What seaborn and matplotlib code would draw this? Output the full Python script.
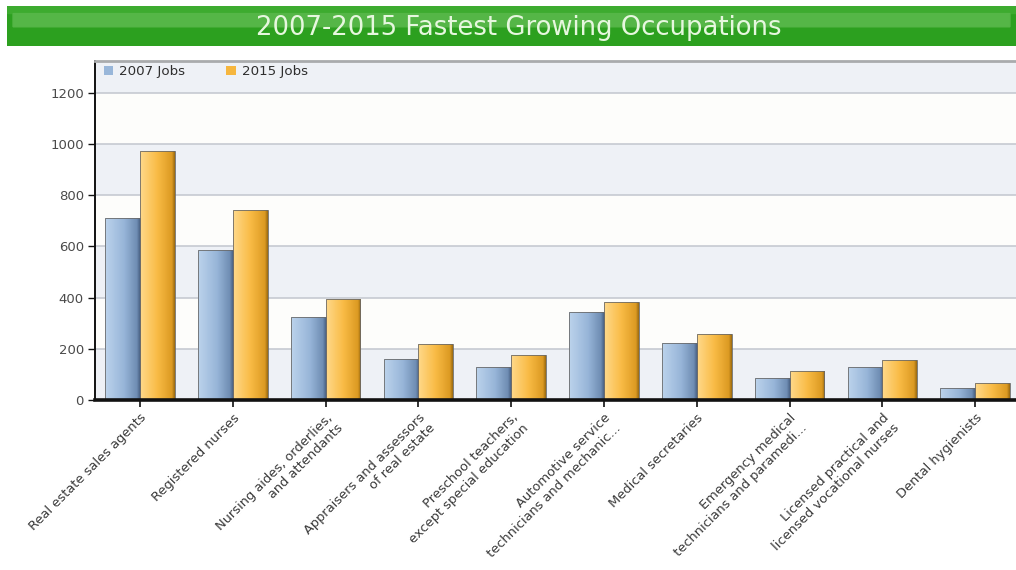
import numpy as np
import pandas as pd
import matplotlib
matplotlib.use("Agg")
import matplotlib.pyplot as plt
from matplotlib.patches import Patch, FancyBboxPatch
from matplotlib.colors import LinearSegmentedColormap
import seaborn as sns

# ---- data -------------------------------------------------------------
occupations = [
    "Real estate sales agents",
    "Registered nurses",
    "Nursing aides, orderlies,\nand attendants",
    "Appraisers and assessors\nof real estate",
    "Preschool teachers,\nexcept special education",
    "Automotive service\ntechnicians and mechanic...",
    "Medical secretaries",
    "Emergency medical\ntechnicians and paramedi...",
    "Licensed practical and\nlicensed vocational nurses",
    "Dental hygienists",
]
jobs_2007 = [710, 587, 324, 160, 129, 345, 222, 85, 130, 48]
jobs_2015 = [973, 743, 395, 219, 176, 384, 258, 115, 156, 68]
series_names = ["2007 Jobs", "2015 Jobs"]
y_ticks = [0, 200, 400, 600, 800, 1000, 1200]
title = "2007-2015 Fastest Growing Occupations"

df = pd.DataFrame({
    "occupation": occupations * 2,
    "series": [series_names[0]] * len(occupations) + [series_names[1]] * len(occupations),
    "jobs": jobs_2007 + jobs_2015,
})

# ---- style ------------------------------------------------------------
sns.set_theme(style="white")
plt.rcParams["font.family"] = ["DejaVu Sans"]

base_colors = {"2007 Jobs": "#98b6d9", "2015 Jobs": "#f6b63e"}
gradients = {
    "2007 Jobs": LinearSegmentedColormap.from_list(
        "blue_bar", [(0, "#bcd3ec"), (0.55, "#97b5d8"), (0.92, "#6f8db3"), (1, "#4d6688")]),
    "2015 Jobs": LinearSegmentedColormap.from_list(
        "orange_bar", [(0, "#ffd98a"), (0.5, "#f9bb45"), (0.92, "#dc9a22"), (1, "#9c6c12")]),
}

W, H = 1016, 570
fig = plt.figure(figsize=(W / 100, H / 100), dpi=100)
fig.patch.set_facecolor("white")

# ---- green title banner ------------------------------------------------
bax = fig.add_axes([7 / W, 1 - 46 / H, 1 - 7 / W, 40 / H])
bax.set_xlim(0, 1)
bax.set_ylim(0, 1)
bax.axis("off")
bax.add_patch(plt.Rectangle((0, 0), 1, 1, color="#2ca01f", transform=bax.transAxes))
bax.add_patch(plt.Rectangle((0, 0.82), 1, 0.18, color="#3dab2f", transform=bax.transAxes))
bax.add_patch(FancyBboxPatch((0.006, 0.48), 0.988, 0.33,
                             boxstyle="round,pad=0,rounding_size=0.006",
                             color="#55b647", transform=bax.transAxes,
                             mutation_aspect=40 / W))
bax.text(0.507, 0.27, title, ha="center", va="baseline", fontsize=18.6,
         color="#e6f7de", transform=bax.transAxes)

# ---- bar chart ---------------------------------------------------------
ax = fig.add_axes([95 / W, 1 - 400 / H, 1 - 95 / W, (400 - 61) / H])
ymax = 1325

# alternating background bands and grid lines
band_edges = y_ticks + [ymax]
for i in range(len(band_edges) - 1):
    ax.axhspan(band_edges[i], band_edges[i + 1],
               color="#eef1f6" if i % 2 == 0 else "#fdfdfb", zorder=0, lw=0)
for t in y_ticks[1:]:
    ax.axhline(t, color="#c6cad1", lw=1.2, zorder=0.5)

sns.barplot(data=df, x="occupation", y="jobs", hue="series",
            palette=base_colors, width=0.75, saturation=1, legend=False,
            errorbar=None, ax=ax)

# horizontal shading on each bar, clipped to the bar shape
for container, name in zip(ax.containers, series_names):
    grad = np.linspace(0, 1, 64).reshape(1, -1)
    for bar in container:
        x0, y0 = bar.get_x(), bar.get_y()
        w, h = bar.get_width(), bar.get_height()
        im = ax.imshow(grad, cmap=gradients[name], aspect="auto",
                       extent=(x0, x0 + w, y0, y0 + h), zorder=2,
                       interpolation="bilinear")
        im.set_clip_path(bar)
        bar.set_facecolor("none")
        bar.set_edgecolor("#6a6a6a")
        bar.set_linewidth(0.6)
        bar.set_zorder(3)

ax.set_xlim(-0.485, 9.44)
ax.set_ylim(0, ymax)
ax.set_yticks(y_ticks)
ax.set_xlabel("")
ax.set_ylabel("")

ax.spines["right"].set_visible(False)
ax.spines["left"].set_color("#111111")
ax.spines["left"].set_linewidth(1.4)
ax.spines["bottom"].set_color("#111111")
ax.spines["bottom"].set_linewidth(2.6)
ax.spines["bottom"].set_zorder(5)
ax.spines["top"].set_color("#a9abad")
ax.spines["top"].set_linewidth(2)

ax.tick_params(axis="y", direction="out", length=5, width=1, color="#111111",
               labelsize=9.5, labelcolor="#4a4a4a", pad=3, left=True)
ax.tick_params(axis="x", direction="out", length=5, width=1.2, color="#111111",
               labelsize=9.4, labelcolor="#3a3a3a", pad=3, bottom=True)
for lbl in ax.get_xticklabels():
    lbl.set_rotation(45)
    lbl.set_ha("right")
    lbl.set_va("top")
    lbl.set_rotation_mode("anchor")
    lbl.set_multialignment("right")

handles = [Patch(facecolor=base_colors[n], edgecolor="none", label=n) for n in series_names]
leg = ax.legend(handles=handles, loc="upper left", bbox_to_anchor=(0.003, 1.005),
                ncol=2, frameon=False, fontsize=9.6, handlelength=0.7,
                handleheight=0.7, handletextpad=0.45, columnspacing=3.1,
                borderaxespad=0.25, borderpad=0.2)
for txt in leg.get_texts():
    txt.set_color("#2e2e2e")

fig.savefig("out.png", dpi=100, facecolor="white")
